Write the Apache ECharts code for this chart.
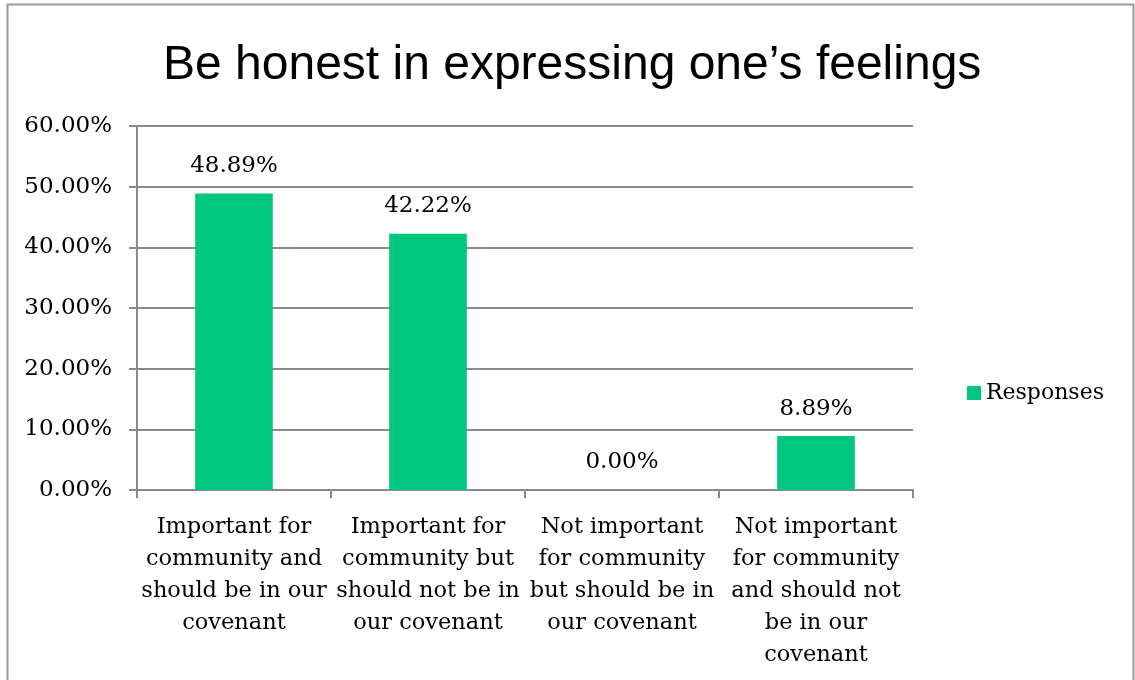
<!DOCTYPE html>
<html>
<head>
<meta charset="utf-8">
<script src="https://cdn.jsdelivr.net/npm/echarts@6/dist/echarts.min.js"></script>
<style>
  html, body { margin: 0; padding: 0; background: #fff; }
  #chart { width: 1135px; height: 680px; }
</style>
</head>
<body>
<div id="chart"></div>
<script>
// Survey answers for one covenant statement
const chartTitle = 'Be honest in expressing one\u2019s feelings';
const categories = [
  'Important for\ncommunity and\nshould be in our\ncovenant',
  'Important for\ncommunity but\nshould not be in\nour covenant',
  'Not important\nfor community\nbut should be in\nour covenant',
  'Not important\nfor community\nand should not\nbe in our\ncovenant'
];
const responses = [48.89, 42.22, 0.00, 8.89];
const seriesName = 'Responses';
const yTicks = [0, 10, 20, 30, 40, 50, 60];

const serif = '"DejaVu Serif", "Liberation Serif", serif';
const gridColor = '#8a8a8a';
const barColor = '#00c680';

const chart = echarts.init(document.getElementById('chart'));
chart.setOption({
  backgroundColor: '#fff',
  animation: false,
  title: {
    text: chartTitle,
    left: 158,
    top: 37,
    textStyle: { fontFamily: '"Liberation Sans", Arial, sans-serif', fontSize: 48, fontWeight: 'normal', color: '#000' }
  },
  legend: {
    data: [seriesName],
    left: 962,
    top: 377,
    itemWidth: 14,
    itemHeight: 14,
    itemGap: 7,
    icon: 'rect',
    textStyle: { fontFamily: serif, fontSize: 22, color: '#000' }
  },
  grid: { left: 137, right: 222, top: 126, bottom: 190, containLabel: false },
  xAxis: {
    type: 'category',
    data: categories,
    axisLine: { show: true, lineStyle: { color: gridColor, width: 2 } },
    axisTick: { show: true, length: 8, alignWithLabel: false, lineStyle: { color: gridColor, width: 2 } },
    axisLabel: {
      interval: 0,
      margin: 21,
      lineHeight: 32,
      fontFamily: serif,
      fontSize: 22.5,
      color: '#000'
    }
  },
  yAxis: {
    type: 'value',
    min: yTicks[0],
    max: yTicks[yTicks.length - 1],
    interval: 10,
    axisLine: { show: true, lineStyle: { color: gridColor, width: 2 } },
    axisTick: { show: true, length: 8, lineStyle: { color: gridColor, width: 2 } },
    splitLine: { show: true, lineStyle: { color: gridColor, width: 2 } },
    axisLabel: {
      margin: 25,
      fontFamily: serif,
      fontSize: 23,
      color: '#000',
      formatter: v => v.toFixed(2) + '%'
    }
  },
  series: [{
    name: seriesName,
    type: 'bar',
    data: responses,
    barWidth: '40%',
    itemStyle: { color: barColor },
    label: {
      show: true,
      position: 'top',
      distance: 16,
      fontFamily: serif,
      fontSize: 23,
      color: '#000',
      formatter: p => p.value.toFixed(2) + '%'
    }
  }],
  graphic: [{
    type: 'rect',
    shape: { x: 7.5, y: 4.5, width: 1126, height: 700 },
    style: { fill: 'none', stroke: '#9a9a9a', lineWidth: 2 },
    silent: true,
    z: 100
  }]
});
</script>
</body>
</html>
